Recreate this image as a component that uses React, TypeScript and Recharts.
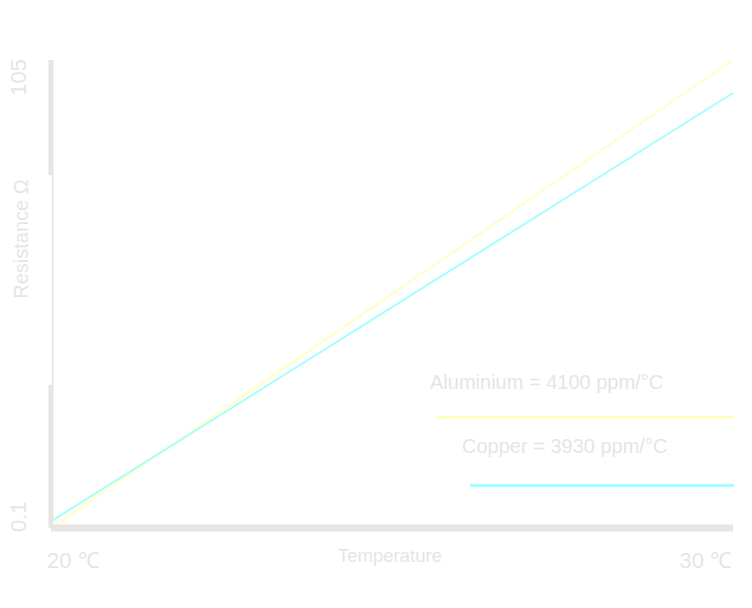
import React from 'react';
import { LineChart, Line, XAxis, YAxis, Legend } from 'recharts';

// temperature in °C, resistance in Ω
const temperatures = [20, 30];
const aluminium = [0.1, 105];
const copper = [1.6, 97.6];
const xTicks = [20, 30];
const yTicks = [0.1, 105];
const seriesNames = ['Aluminium = 4100 ppm/°C', 'Copper = 3930 ppm/°C'];

const data = temperatures.map((t, i) => ({ temp: t, al: aluminium[i], cu: copper[i] }));

const FONT = '"Liberation Sans", Arial, sans-serif';
const AXIS = '#e8e4df';
const TEXT = '#e8e5e0';
const YELLOW = '#ffffc4';
const CYAN = '#a3ffff';

const XTick = (props: any) => {
  const { x, y, payload, index } = props;
  const first = index === 0;
  return (
    <text
      x={first ? x - 4 : x - 1}
      y={y + 40}
      textAnchor={first ? 'start' : 'end'}
      fill={TEXT}
      fontSize={22}
      fontFamily={FONT}
    >
      {`${payload.value} ℃`}
    </text>
  );
};

const YTick = (props: any) => {
  const { y, payload, index } = props;
  const first = index === 0;
  const cy = first ? y + 4 : y - 1;
  return (
    <text
      x={18}
      y={cy}
      transform={`rotate(-90 18 ${cy})`}
      textAnchor={first ? 'start' : 'end'}
      fill={TEXT}
      fontSize={22}
      fontFamily={FONT}
    >
      {payload.value}
    </text>
  );
};

const YLabel = () => (
  <g>
    <rect x={0} y={167} width={44} height={210} fill="#ffffff" />
    <text
      x={20}
      y={231}
      transform="rotate(-90 20 231)"
      textAnchor="middle"
      fill={TEXT}
      fontSize={20}
      fontFamily={FONT}
    >
      Resistance Ω
    </text>
  </g>
);

const XLabel = (props: any) => {
  const { viewBox } = props;
  return (
    <text
      x={viewBox.x + viewBox.width / 2 - 2}
      y={viewBox.y + 34}
      textAnchor="middle"
      fill={TEXT}
      fontSize={18.5}
      fontFamily={FONT}
    >
      Temperature
    </text>
  );
};

const legendPlaces = [
  { textLeft: 422, textTop: 363, lineLeft: 428, lineTop: 408, lineWidth: 298 },
  { textLeft: 454, textTop: 427, lineLeft: 462, lineTop: 476, lineWidth: 264 },
];

const LegendBox = (props: any) => {
  const { payload } = props;
  return (
    <div style={{ position: 'relative', width: 736, height: 592, fontFamily: FONT }}>
      {(payload || []).map((entry: any, i: number) => {
        const p = legendPlaces[i];
        return (
          <React.Fragment key={entry.value}>
            <div
              style={{
                position: 'absolute',
                left: p.textLeft,
                top: p.textTop,
                fontSize: 20,
                lineHeight: '22px',
                color: TEXT,
                whiteSpace: 'nowrap',
              }}
            >
              {entry.value}
            </div>
            <div
              style={{
                position: 'absolute',
                left: p.lineLeft,
                top: p.lineTop,
                width: p.lineWidth,
                height: 3,
                background: entry.color,
              }}
            />
          </React.Fragment>
        );
      })}
    </div>
  );
};

export default function App() {
  return (
    <div style={{ width: 736, height: 592, fontFamily: FONT }}>
      <LineChart width={736} height={592} data={data} margin={{ top: 52, right: 11, left: 0, bottom: 0 }}>
        <Line
          type="linear"
          dataKey="al"
          name={seriesNames[0]}
          stroke={YELLOW}
          strokeWidth={2}
          dot={false}
          isAnimationActive={false}
        />
        <Line
          type="linear"
          dataKey="cu"
          name={seriesNames[1]}
          stroke={CYAN}
          strokeWidth={2}
          dot={false}
          isAnimationActive={false}
        />
        <XAxis
          type="number"
          dataKey="temp"
          domain={[20, 30]}
          ticks={xTicks}
          height={72}
          tickSize={0}
          tickMargin={0}
          tickLine={false}
          axisLine={{ stroke: AXIS, strokeWidth: 7 }}
          tick={<XTick />}
          label={<XLabel />}
        />
        <YAxis
          type="number"
          domain={[0.1, 105]}
          ticks={yTicks}
          width={43}
          tickSize={0}
          tickMargin={0}
          tickLine={false}
          axisLine={{ stroke: AXIS, strokeWidth: 5 }}
          tick={<YTick />}
          label={<YLabel />}
          allowDataOverflow
        />
        <Legend
          layout="vertical"
          align="center"
          verticalAlign="middle"
          content={<LegendBox />}
          wrapperStyle={{ left: 0, top: 0, width: 736, height: 592, pointerEvents: 'none' }}
        />
      </LineChart>
    </div>
  );
}
